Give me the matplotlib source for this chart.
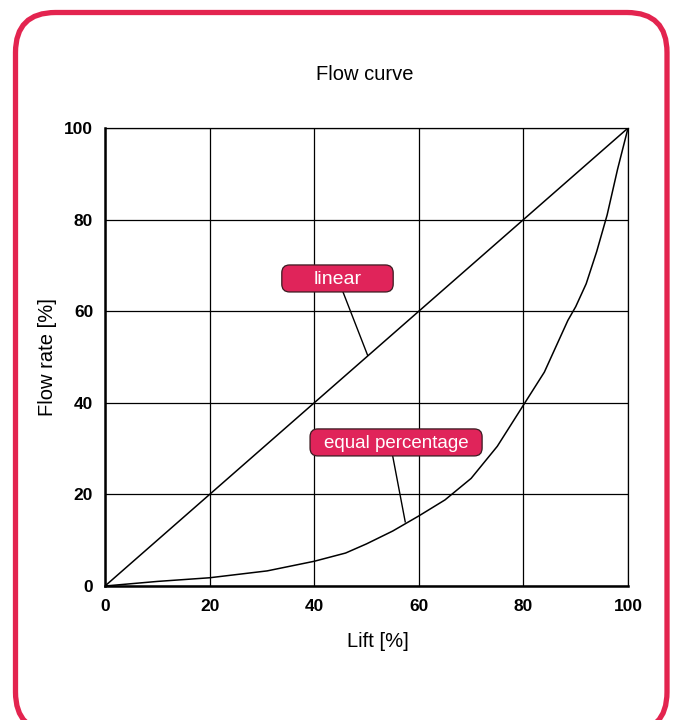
import matplotlib
matplotlib.use("Agg")
import matplotlib.pyplot as plt
import matplotlib.patches as mpatches
from matplotlib.transforms import IdentityTransform

# ---- data ----
linear_lift = [0, 100]
linear_flow = [0, 100]
eq_lift = [0, 10, 20, 31, 40, 46, 50, 55, 60, 65, 70, 75, 80, 84, 88.5, 90, 92, 94, 96, 98, 100]
eq_flow = [0, 1.0, 1.8, 3.3, 5.4, 7.2, 9.2, 12.0, 15.3, 18.8, 23.5, 30.5, 39.5, 46.7, 58, 61, 66, 73, 81, 91, 100]
ticks = [0, 20, 40, 60, 80, 100]
title = "Flow curve"
xlabel = "Lift [%]"
ylabel = "Flow rate [%]"
lab_linear = "linear"
lab_eq = "equal percentage"

RED = "#E3244F"
BOXRED = "#E0245A"
FONT = ["Liberation Sans", "DejaVu Sans"]

fig = plt.figure(figsize=(6.78, 7.2), dpi=100)
ax = fig.add_axes([0.1549, 0.1861, 0.7714, 0.6361])

ax.set_xlim(0, 100)
ax.set_ylim(0, 100)
ax.set_xticks(ticks)
ax.set_yticks(ticks)
ax.set_xticklabels([str(t) for t in ticks], fontfamily=FONT, fontweight="bold", fontsize=12.5)
ax.set_yticklabels([str(t) for t in ticks], fontfamily=FONT, fontweight="bold", fontsize=12.5)
ax.tick_params(axis="y", length=0, pad=8.5)
ax.tick_params(axis="x", length=0, pad=9)
ax.grid(True, color="black", lw=0.9)
ax.set_axisbelow(True)
for s in ["top", "right"]:
    ax.spines[s].set_linewidth(0.9)
for s in ["left", "bottom"]:
    ax.spines[s].set_linewidth(1.8)

ax.plot(linear_lift, linear_flow, color="black", lw=1.1, zorder=3)
ax.plot(eq_lift, eq_flow, color="black", lw=1.1, zorder=3)

# annotation boxes
asp = (1.75 / 1.53)
b1 = mpatches.FancyBboxPatch((33.8, 64.2), 21.3, 5.9,
                             boxstyle="round,pad=0,rounding_size=1.5",
                             mutation_aspect=asp, fc=BOXRED, ec="#3a1a20", lw=0.9, zorder=5)
ax.add_patch(b1)
ax.text(44.45, 67.0, lab_linear, color="white", ha="center", va="center",
        fontsize=14, fontfamily=FONT, zorder=6)
ax.plot([45.5, 50.2], [64.2, 50.4], color="black", lw=1.0, zorder=4)

b2 = mpatches.FancyBboxPatch((39.2, 28.4), 32.9, 5.9,
                             boxstyle="round,pad=0,rounding_size=1.5",
                             mutation_aspect=asp, fc=BOXRED, ec="#3a1a20", lw=0.9, zorder=5)
ax.add_patch(b2)
ax.text(55.65, 31.2, lab_eq, color="white", ha="center", va="center",
        fontsize=13.5, fontfamily=FONT, zorder=6)
ax.plot([55.0, 57.4], [28.4, 14.0], color="black", lw=1.0, zorder=4)

fig.text(0.5383, 1 - 74 / 720, title, ha="center", va="center", fontsize=14.5, fontfamily=FONT)
ax.set_xlabel(xlabel, fontsize=14.5, fontfamily=FONT)
ax.set_ylabel(ylabel, fontsize=14.5, fontfamily=FONT)
ax.xaxis.set_label_coords(0.5225, -0.122)
ax.yaxis.set_label_coords(-0.11, 0.5)
ax.xaxis.label.set_va("center")
ax.yaxis.label.set_va("center")

# red rounded frame in pixel coordinates
frame = mpatches.FancyBboxPatch((15.5, -12), 651.5, 719.5,
                                boxstyle="round,pad=0,rounding_size=40",
                                fc="none", ec=RED, lw=3.8, transform=IdentityTransform())
fig.patches.append(frame)

fig.savefig("out.png", dpi=100)
